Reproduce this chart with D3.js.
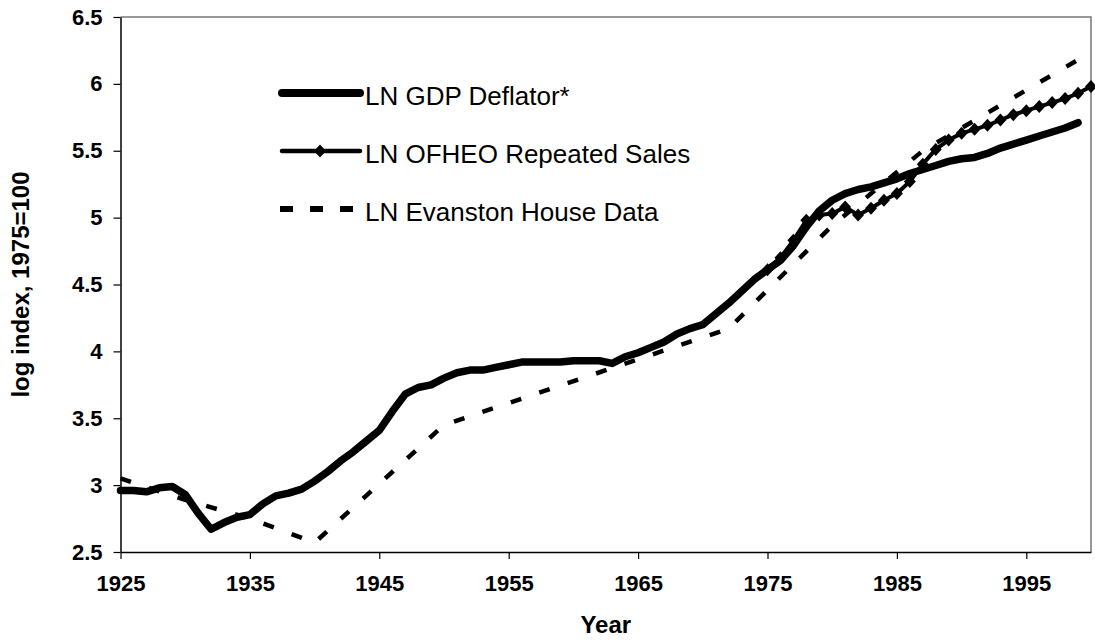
<!DOCTYPE html>
<html>
<head>
<meta charset="utf-8">
<script src="https://cdn.jsdelivr.net/npm/d3@7"></script>
<style>
  body { margin: 0; background: #fff; }
  svg { display: block; font-family: "Liberation Sans", Arial, sans-serif; }
</style>
</head>
<body>
<svg id="chart" width="1095" height="641"></svg>
<script>
// Values (log index, 1975=100)
const gdpStart = 1925;
const gdpDeflator = [
  2.96, 2.96, 2.95, 2.98, 2.99, 2.93, 2.79, 2.67, 2.72, 2.76,   // 1925-1934
  2.78, 2.86, 2.92, 2.94, 2.97, 3.03, 3.10, 3.18, 3.25, 3.33,   // 1935-1944
  3.41, 3.55, 3.68, 3.73, 3.75, 3.80, 3.84, 3.86, 3.86, 3.88,   // 1945-1954
  3.90, 3.92, 3.92, 3.92, 3.92, 3.93, 3.93, 3.93, 3.91, 3.96,   // 1955-1964
  3.99, 4.03, 4.07, 4.13, 4.17, 4.20, 4.28, 4.36, 4.45, 4.54,   // 1965-1974
  4.61, 4.68, 4.79, 4.93, 5.05, 5.13, 5.18, 5.21, 5.23, 5.26,   // 1975-1984
  5.29, 5.33, 5.36, 5.39, 5.42, 5.44, 5.45, 5.48, 5.52, 5.55,   // 1985-1994
  5.58, 5.61, 5.64, 5.67, 5.71                                  // 1995-1999
];

const ofheoStart = 1975;
const ofheoSales = [
  4.61, 4.70, 4.83, 4.98, 5.02, 5.03, 5.08, 5.02, 5.07, 5.13,   // 1975-1984
  5.18, 5.27, 5.40, 5.51, 5.58, 5.63, 5.66, 5.69, 5.73, 5.77,   // 1985-1994
  5.80, 5.83, 5.86, 5.89, 5.93, 5.98                            // 1995-2000
];

const evanstonYears = [1925, 1930, 1935, 1940, 1950, 1972, 1980, 1987, 1999];
const evanstonHouse = [3.05, 2.89, 2.75, 2.57, 3.45, 4.17, 4.94, 5.50, 6.18];

const xTickYears = [1925, 1935, 1945, 1955, 1965, 1975, 1985, 1995];
const yTickValues = [2.5, 3, 3.5, 4, 4.5, 5, 5.5, 6, 6.5];

const legendLabels = ["LN GDP Deflator*", "LN OFHEO Repeated Sales", "LN Evanston House Data"];

// Plot area
const plotLeft = 120.5, plotRight = 1091, plotTop = 17, plotBottom = 552;

const svg = d3.select("#chart");

const x = d3.scaleLinear().domain([1925, 2000]).range([plotLeft, plotRight]);
const y = d3.scaleLinear().domain([2.5, 6.5]).range([plotBottom, plotTop]);

const gdpData = gdpDeflator.map((v, i) => ({ year: gdpStart + i, value: v }));
const ofheoData = ofheoSales.map((v, i) => ({ year: ofheoStart + i, value: v }));
const evanstonData = evanstonHouse.map((v, i) => ({ year: evanstonYears[i], value: v }));

// frame (top and right in grey)
svg.append("path")
  .attr("d", `M${plotLeft},${plotTop}H${plotRight}V${plotBottom}`)
  .attr("fill", "none")
  .attr("stroke", "#777")
  .attr("stroke-width", 1.5);

// axes
const yAxis = svg.append("g")
  .attr("transform", `translate(${plotLeft},0)`)
  .call(d3.axisLeft(y).tickValues(yTickValues).tickSize(7).tickSizeOuter(0).tickPadding(11)
    .tickFormat(d => String(d)));

const xAxis = svg.append("g")
  .attr("transform", `translate(0,${plotBottom})`)
  .call(d3.axisBottom(x).tickValues(xTickYears).tickSize(7).tickSizeOuter(0).tickPadding(16)
    .tickFormat(d => String(d)));

[yAxis, xAxis].forEach(g => {
  g.select(".domain").attr("stroke", "#000").attr("stroke-width", 1.5);
  g.selectAll(".tick line").attr("stroke", "#000").attr("stroke-width", 1.2);
  g.selectAll(".tick text")
    .attr("fill", "#000")
    .style("font-family", "'Liberation Sans', Arial, sans-serif")
    .style("font-size", "22px")
    .style("font-weight", "bold");
});

// axis titles
svg.append("text")
  .attr("transform", `translate(29,${(plotTop + plotBottom) / 2}) rotate(-90)`)
  .attr("text-anchor", "middle")
  .style("font-size", "24px")
  .style("font-weight", "bold")
  .text("log index, 1975=100");

svg.append("text")
  .attr("x", (plotLeft + plotRight) / 2)
  .attr("y", 633)
  .attr("text-anchor", "middle")
  .style("font-size", "24px")
  .style("font-weight", "bold")
  .text("Year");

const line = d3.line().x(d => x(d.year)).y(d => y(d.value));
const diamond = "M0,-6.5L6,0L0,6.5L-6,0Z";

// GDP deflator - heavy solid line
svg.append("path")
  .datum(gdpData)
  .attr("d", line)
  .attr("fill", "none")
  .attr("stroke", "#000")
  .attr("stroke-width", 7.5)
  .attr("stroke-linejoin", "round")
  .attr("stroke-linecap", "round");

// OFHEO - solid line with diamonds
svg.append("path")
  .datum(ofheoData)
  .attr("d", line)
  .attr("fill", "none")
  .attr("stroke", "#000")
  .attr("stroke-width", 4)
  .attr("stroke-linejoin", "round");

svg.append("g")
  .selectAll("path")
  .data(ofheoData)
  .enter()
  .append("path")
  .attr("transform", d => `translate(${x(d.year)},${y(d.value)})`)
  .attr("d", diamond)
  .attr("fill", "#000");

// Evanston - dashed line
svg.append("path")
  .datum(evanstonData)
  .attr("d", line)
  .attr("fill", "none")
  .attr("stroke", "#000")
  .attr("stroke-width", 4.5)
  .attr("stroke-dasharray", "11,19");

// legend
const legend = svg.append("g");
const legendY = [93, 151, 209];

legend.append("line")
  .attr("x1", 282).attr("x2", 360).attr("y1", legendY[0]).attr("y2", legendY[0])
  .attr("stroke", "#000").attr("stroke-width", 8).attr("stroke-linecap", "round");

legend.append("line")
  .attr("x1", 282).attr("x2", 360).attr("y1", legendY[1]).attr("y2", legendY[1])
  .attr("stroke", "#000").attr("stroke-width", 4.5).attr("stroke-linecap", "round");
legend.append("path")
  .attr("transform", `translate(320,${legendY[1]})`)
  .attr("d", diamond)
  .attr("fill", "#000");

legend.append("line")
  .attr("x1", 280).attr("x2", 362).attr("y1", legendY[2]).attr("y2", legendY[2])
  .attr("stroke", "#000").attr("stroke-width", 6).attr("stroke-dasharray", "13,17");

legend.selectAll("text")
  .data(legendLabels)
  .enter()
  .append("text")
  .attr("x", 365)
  .attr("y", (d, i) => legendY[i] + 12)
  .style("font-size", "26px")
  .text(d => d);
</script>
</body>
</html>
